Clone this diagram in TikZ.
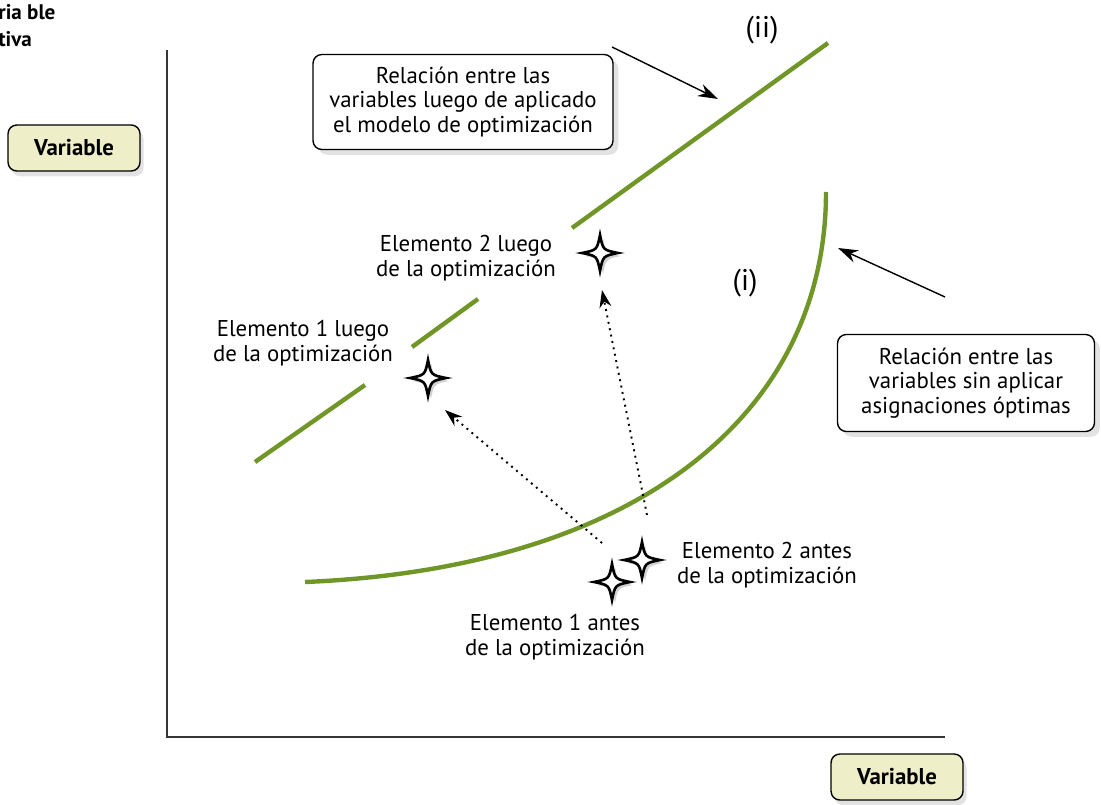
\documentclass[tikz,border=0pt]{standalone}
\usepackage{fontspec}
\setmainfont{PT Sans}
\usetikzlibrary{arrows.meta,positioning,shadows}
\definecolor{curvegreen}{RGB}{112,150,40}
\definecolor{tagfill}{RGB}{238,238,200}
\definecolor{axisgray}{RGB}{55,55,55}

\begin{document}
\begin{tikzpicture}[x=0.02cm, y=-0.02cm,
  note/.style={draw, thick, rounded corners=5pt, fill=white, align=center, font=\fontsize{13}{14.1}\selectfont, drop shadow={shadow xshift=3pt, shadow yshift=-3pt, fill=gray!45}},
  tag/.style={draw, thick, rounded corners=5pt, fill=tagfill, font=\bfseries\fontsize{13}{15}\selectfont, minimum width=2.64cm, minimum height=0.92cm, drop shadow={shadow xshift=2pt, shadow yshift=-3pt, fill=gray!45}},
  elem/.style={align=center, font=\fontsize{13}{14.2}\selectfont},
  roman/.style={font=\fontsize{17}{20}\selectfont},
  starspot/.style={circle, inner sep=0pt, minimum size=0.7cm},
  sparkle/.pic={
    \fill[gray!35] (3,-15) .. controls (6,0) .. (21,3) .. controls (6,6) .. (3,21) .. controls (0,6) .. (-15,3) .. controls (0,0) .. cycle;
    \draw[line width=1.5pt, fill=white] (0,-18) .. controls (3,-3) .. (18,0) .. controls (3,3) .. (0,18) .. controls (-3,3) .. (-18,0) .. controls (-3,-3) .. cycle;
  },
  curve/.style={curvegreen, line width=2.5pt},
  arr/.style={-{Stealth[length=4mm, width=2.6mm]}, thick},
  dotarr/.style={-{Stealth[length=3.5mm, width=2.4mm]}, line width=1.1pt, dash pattern=on 1.1pt off 2.6pt},
]
\useasboundingbox (0,0) rectangle (1101,804);

% Axes
\node[font=\bfseries\fontsize{12}{15.5}\selectfont, align=left, anchor=north west, inner sep=0pt] (ytitle) at (-2,4) {ria ble\\tiva};
\coordinate (origin) at (167,737);
\coordinate (ytop) at (167,50);
\coordinate (xend) at (945,737);
\draw[axisgray, line width=1.1pt] (ytop) -- (origin) -- (xend);
\node[tag] (yvar) at (74,148) {Variable};
\node[tag] (xvar) at (897,777) {Variable};

% Relations
\draw[curve] (255,462) -- (365,385);
\draw[curve] (412,347) -- (478,299);
\draw[curve] (572,228) -- (828,43);
\draw[curve] (305,582) .. controls (640,568) and (826,412) .. (826,192);
\node[roman] (lblii) at (762,30) {(ii)};
\node[roman] (lbli) at (745,283) {(i)};

% Notes
\node[note, minimum width=6cm, minimum height=1.9cm] (noteii) at (463,102) {Relación entre las\\variables luego de aplicado\\el modelo de optimización};
\node[note, minimum width=5.14cm, minimum height=1.94cm] (notei) at (966,383) {Relación entre las\\variables sin aplicar\\asignaciones óptimas};
\coordinate (iitail) at (612,47);
\coordinate (iihead) at (718,99);
\coordinate (itail) at (945,297);
\coordinate (ihead) at (838,248);
\draw[arr] (iitail) -- (iihead);
\draw[arr] (itail) -- (ihead);

% Elements
\node[starspot] (e1after) at (428,378) {};
\node[starspot] (e2after) at (600,253) {};
\node[starspot] (e1before) at (612,582) {};
\node[starspot] (e2before) at (642,560) {};
\foreach \e in {e1after, e2after, e1before, e2before}
  \pic at (\e) {sparkle};
\node[elem, left=0.4cm of e2after, yshift=-0.1cm] (t2after) {Elemento 2 luego\\de la optimización};
\node[elem] (t1after) at (303,343) {Elemento 1 luego\\de la optimización};
\node[elem] (t2before) at (767,565) {Elemento 2 antes\\de la optimización};
\node[elem] (t1before) at (555,637) {Elemento 1 antes\\de la optimización};
\draw[dotarr] ([shift={(-10,-39)}]e1before.center) -- ([shift={(17,32)}]e1after.center);
\draw[dotarr] ([shift={(5,-45)}]e2before.center) -- ([shift={(2,37)}]e2after.center);

\end{tikzpicture}
\end{document}
